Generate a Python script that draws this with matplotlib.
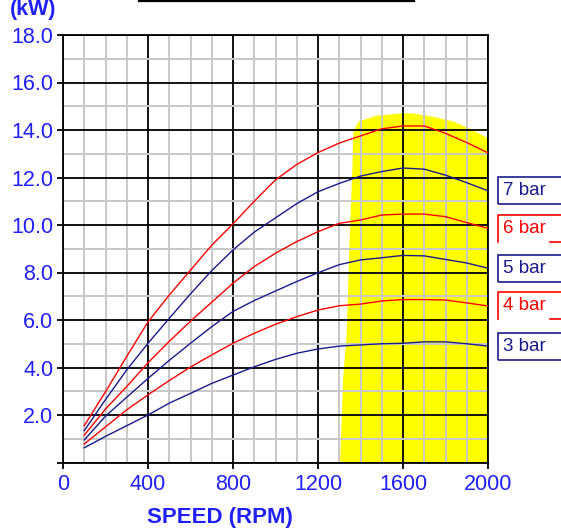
#!/usr/bin/env python3
"""Power vs speed curves for several mean pressures, with the operating zone."""

import matplotlib
matplotlib.use("Agg")
import matplotlib.pyplot as plt
from matplotlib import transforms
from matplotlib.lines import Line2D
from matplotlib.patches import Rectangle
from matplotlib.ticker import MultipleLocator

plt.rcParams["font.family"] = ["Liberation Sans", "DejaVu Sans"]

# speed in rpm, power in kW
rpm = [100, 200, 300, 400, 500, 600, 700, 800, 900, 1000,
       1100, 1200, 1300, 1400, 1500, 1600, 1700, 1800, 1900, 2000]
kw_8bar = [1.55, 2.98, 4.47, 5.92, 7.05, 8.1, 9.15, 10.05, 11.0, 11.9,
           12.55, 13.05, 13.45, 13.75, 14.05, 14.17, 14.17, 13.86, 13.47, 13.04]
kw_7bar = [1.34, 2.65, 3.9, 5.02, 6.07, 7.1, 8.08, 8.95, 9.7, 10.3,
           10.9, 11.4, 11.75, 12.06, 12.25, 12.4, 12.35, 12.1, 11.78, 11.44]
kw_6bar = [1.15, 2.25, 3.2, 4.2, 5.1, 5.95, 6.75, 7.55, 8.25, 8.81,
           9.3, 9.72, 10.07, 10.21, 10.42, 10.46, 10.46, 10.35, 10.1, 9.86]
kw_5bar = [0.95, 1.95, 2.75, 3.54, 4.3, 5.02, 5.72, 6.36, 6.82, 7.22,
           7.62, 7.99, 8.33, 8.53, 8.62, 8.72, 8.7, 8.55, 8.4, 8.18]
kw_4bar = [0.78, 1.5, 2.22, 2.85, 3.45, 4.02, 4.53, 5.02, 5.44, 5.82,
           6.14, 6.42, 6.6, 6.67, 6.8, 6.86, 6.86, 6.84, 6.72, 6.59]
kw_3bar = [0.62, 1.1, 1.55, 2.0, 2.5, 2.91, 3.33, 3.68, 4.03, 4.34,
           4.6, 4.78, 4.9, 4.95, 5.0, 5.02, 5.08, 5.08, 5.0, 4.9]

# outline of the yellow operating zone
zone_rpm = [1304, 1318, 1335, 1350, 1362, 1366, 1390, 1476, 1590, 1640, 1745, 1840, 1915, 2000, 2000]
zone_kw = [0.0, 3.5, 5.4, 9.7, 12.4, 13.9, 14.35, 14.6, 14.7, 14.7, 14.55, 14.35, 14.05, 13.65, 0.0]

x_ticks = [0, 400, 800, 1200, 1600, 2000]
y_ticks = [0, 2, 4, 6, 8, 10, 12, 14, 16, 18]

RED = "#ff0000"
NAVY = "#1a1a8a"
LABEL_BLUE = "#2020ff"

curves = [
    (kw_8bar, RED, None),
    (kw_7bar, NAVY, "7 bar"),
    (kw_6bar, RED, "6 bar"),
    (kw_5bar, NAVY, "5 bar"),
    (kw_4bar, RED, "4 bar"),
    (kw_3bar, NAVY, "3 bar"),
]

fig = plt.figure(figsize=(5.61, 5.31), dpi=100)
ax = fig.add_axes([63 / 561, 1 - 462.5 / 531, 425 / 561, 427.5 / 531])

ax.fill(zone_rpm, zone_kw, color="#ffff00", linewidth=0, zorder=0.5)

for values, color, _ in curves:
    ax.plot(rpm, values, color=color, linewidth=1.0, zorder=3)

ax.set_xlim(0, 2000)
ax.set_ylim(0, 18)
ax.set_xticks(x_ticks)
ax.set_xticklabels([str(v) for v in x_ticks])
ax.set_yticks(y_ticks)
ax.set_yticklabels(["" if v == 0 else f"{v:.1f}" for v in y_ticks])
ax.xaxis.set_minor_locator(MultipleLocator(100))
ax.yaxis.set_minor_locator(MultipleLocator(1))
ax.grid(True, which="minor", color="#c8c8c8", linewidth=1.4)
ax.grid(True, which="major", color="black", linewidth=1.3)
ax.tick_params(which="major", direction="out", length=4.5, width=1.3,
               color="black", labelsize=15.5, labelcolor=LABEL_BLUE)
ax.tick_params(axis="y", pad=2.5)
ax.tick_params(axis="x", pad=4)
ax.tick_params(which="minor", length=0)
for spine in ax.spines.values():
    spine.set_color("black")
    spine.set_linewidth(1.3)

fig.text(33 / 561, 1 - 10 / 531, "(kW)", color=LABEL_BLUE, fontsize=15.5,
         fontweight="bold", ha="center", va="center")
fig.text(220 / 561, 1 - 517 / 531, "SPEED (RPM)", color=LABEL_BLUE, fontsize=16,
         fontweight="bold", ha="center", va="center")

# underline of the (cut off) title
fig.add_artist(Line2D([139 / 561, 414 / 561], [1 - 0.8 / 531] * 2,
                      transform=fig.transFigure, color="black", linewidth=1.6))

# boxed labels at the curve ends, cut off by the right edge
mixed = transforms.blended_transform_factory(fig.transFigure, ax.transData)
box_left = 497.5 / 561
box_half = 13.5 / 23.75
for values, color, label in curves:
    if label is None:
        continue
    y_end = values[-1]
    if color == NAVY:
        fig.add_artist(Rectangle((box_left, y_end - box_half), 0.3, 2 * box_half,
                                 transform=mixed, fill=False, edgecolor=color,
                                 linewidth=1.2))
    else:
        fig.add_artist(Line2D([box_left, box_left, 1.0],
                              [y_end - box_half, y_end + box_half, y_end + box_half],
                              transform=mixed, color=color, linewidth=1.2))
        fig.add_artist(Line2D([550 / 561, 1.0], [y_end - box_half] * 2,
                              transform=mixed, color=color, linewidth=1.2))
    fig.text(503 / 561, y_end, label, transform=mixed, color=color,
             fontsize=13.5, ha="left", va="center")

fig.savefig("out.png", dpi=100)
